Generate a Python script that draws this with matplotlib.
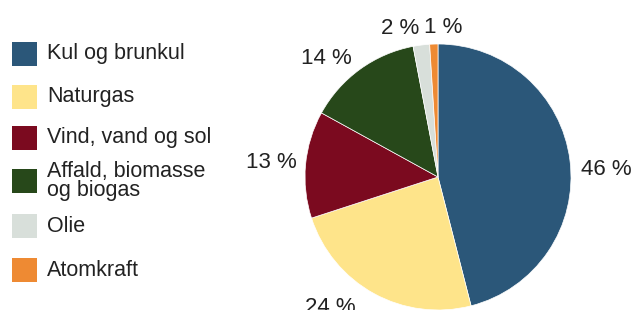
import numpy as np
import matplotlib.pyplot as plt
from matplotlib.patches import Rectangle

plt.rcParams['font.family'] = ['Liberation Sans', 'DejaVu Sans']

# data
labels = ['Kul og brunkul', 'Naturgas', 'Vind, vand og sol',
          'Affald, biomasse\nog biogas', 'Olie', 'Atomkraft']
shares = [46, 24, 13, 14, 2, 1]
colors = ['#2b5779', '#fee48a', '#7b0a1f', '#27481a', '#d8dfda', '#ee8a33']

W, H = 636, 310
fig = plt.figure(figsize=(W / 100, H / 100), dpi=100)

# pie axes: centre (438, 177) px from top, radius 133 px
cx, cy, r = 438, 177, 133
ax = fig.add_axes([(cx - r) / W, (H - cy - r) / H, 2 * r / W, 2 * r / H])
wedges, _ = ax.pie(shares, colors=colors, startangle=90, counterclock=False,
                   wedgeprops=dict(edgecolor='white', linewidth=0.5))
ax.set_xlim(-1, 1)
ax.set_ylim(-1, 1)
ax.set_aspect('equal')
ax.axis('off')

# percentage labels (distance, alignment, extra shift in pixels)
label_style = [(1.07, 'left', 2, -10), (1.07, 'right', -14, -6), (1.07, 'right', 0, 1),
               (1.07, 'right', -3, 3), (1.10, 'right', 0, 3), (1.10, 'left', -9, 3)]
cum = np.cumsum([0] + shares)
for i, s in enumerate(shares):
    mid = np.deg2rad(90 - 360 * (cum[i] + s / 2) / 100)
    d, ha, sx, sy = label_style[i]
    ax.annotate(f'{s} %', (d * np.cos(mid), d * np.sin(mid)),
                xytext=(sx * 0.72, sy * 0.72), textcoords='offset points',
                ha=ha, va='center', fontsize=16, color='#222222',
                annotation_clip=False)

# manual legend on the left
row_y = [53.5, 96.5, 138, 181, 226, 270]
for lab, col, y in zip(labels, colors, row_y):
    fig.patches.append(Rectangle((12 / W, 1 - (y + 12) / H), 25 / W, 24 / H,
                                 transform=fig.transFigure, facecolor=col,
                                 edgecolor='none'))
    fig.text(47 / W, 1 - y / H, lab, ha='left', va='center', fontsize=15.5,
             color='#222222', linespacing=0.9)

fig.savefig('out.png', dpi=100)
